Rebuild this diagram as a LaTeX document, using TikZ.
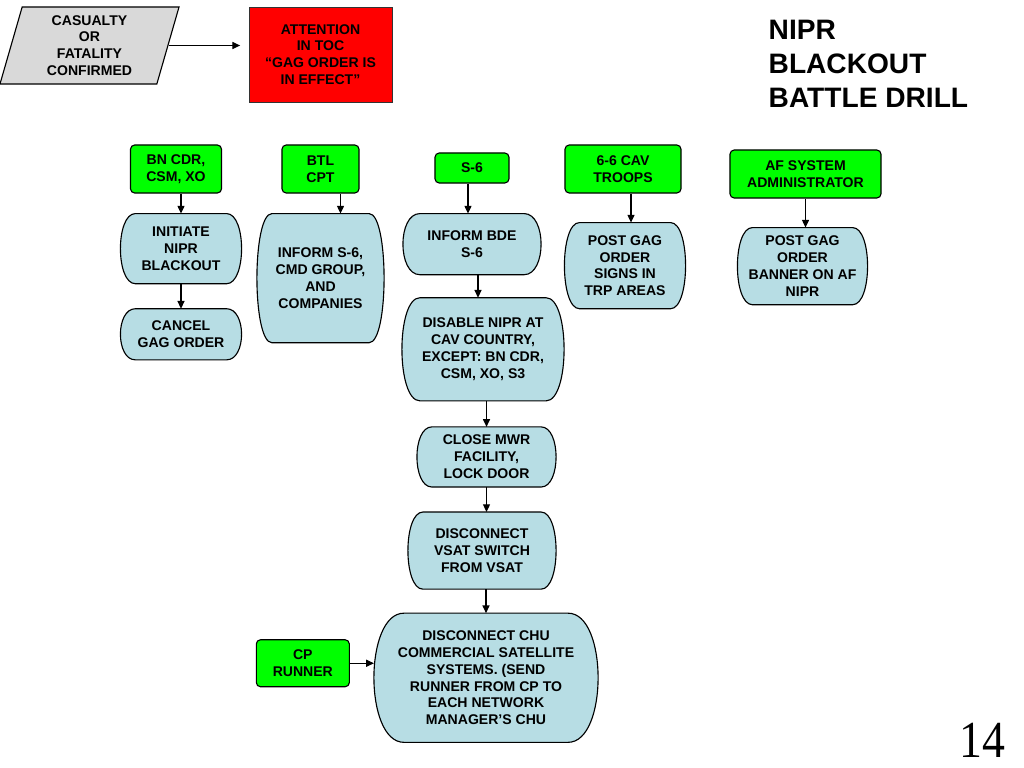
\documentclass[tikz,border=0pt]{standalone}
\usepackage{fontspec}
\setmainfont{Liberation Sans}
\newfontfamily\slidenumfont{Liberation Serif}
\usetikzlibrary{shapes,arrows.meta,positioning,calc}

\definecolor{actorgreen}{HTML}{00FF00}
\definecolor{stepblue}{HTML}{B7DDE4}
\definecolor{eventgray}{HTML}{D9D9D9}

% box with bulging left and right sides
\makeatletter
\def\barrelbulge{0.375cm}
\tikzset{barrel bulge/.code={\def\barrelbulge{#1}}}
\pgfdeclareshape{barrel}{
  \inheritsavedanchors[from=rectangle]
  \inheritanchorborder[from=rectangle]
  \inheritanchor[from=rectangle]{center}
  \inheritanchor[from=rectangle]{mid}
  \inheritanchor[from=rectangle]{base}
  \inheritanchor[from=rectangle]{north}
  \inheritanchor[from=rectangle]{south}
  \inheritanchor[from=rectangle]{east}
  \inheritanchor[from=rectangle]{west}
  \inheritanchor[from=rectangle]{north east}
  \inheritanchor[from=rectangle]{north west}
  \inheritanchor[from=rectangle]{south east}
  \inheritanchor[from=rectangle]{south west}
  \backgroundpath{%
    \southwest \pgfmathsetmacro\brlL{\pgf@x}\pgfmathsetmacro\brlB{\pgf@y}%
    \northeast \pgfmathsetmacro\brlR{\pgf@x}\pgfmathsetmacro\brlT{\pgf@y}%
    \pgfmathsetmacro\brlb{\barrelbulge}%
    \pgfmathsetmacro\brlLi{\brlL+\brlb}%
    \pgfmathsetmacro\brlRi{\brlR-\brlb}%
    \pgfmathsetmacro\brlLc{\brlL-\brlb/3}%
    \pgfmathsetmacro\brlRc{\brlR+\brlb/3}%
    \pgfpathmoveto{\pgfpoint{\brlLi pt}{\brlT pt}}%
    \pgfpathlineto{\pgfpoint{\brlRi pt}{\brlT pt}}%
    \pgfpathcurveto{\pgfpoint{\brlRc pt}{\brlT pt}}{\pgfpoint{\brlRc pt}{\brlB pt}}{\pgfpoint{\brlRi pt}{\brlB pt}}%
    \pgfpathlineto{\pgfpoint{\brlLi pt}{\brlB pt}}%
    \pgfpathcurveto{\pgfpoint{\brlLc pt}{\brlB pt}}{\pgfpoint{\brlLc pt}{\brlT pt}}{\pgfpoint{\brlLi pt}{\brlT pt}}%
    \pgfpathclose
  }
}
\makeatother

\begin{document}
\begin{tikzpicture}[
  x=0.025cm, y=-0.025cm,
  every node/.style={font=\fontsize{10}{12}\selectfont\bfseries, align=center, inner sep=1pt},
  event/.style={trapezium, trapezium left angle=70.7, trapezium right angle=109.3, trapezium stretches body=true, draw=black, fill=eventgray, line width=0.8pt, minimum width=4.475cm, minimum height=1.925cm},
  alarm/.style={rectangle, draw=black!80, fill=red, line width=0.6pt, minimum width=3.575cm, minimum height=2.375cm},
  actor/.style={rectangle, draw=black, fill=actorgreen, rounded corners=3pt, line width=0.8pt, minimum width=#1, minimum height=1.2cm},
  action/.style 2 args={barrel, draw=black, fill=stepblue, line width=0.8pt, minimum width=#1, minimum height=#2},
  arrow/.style={-{Triangle[length=5.5pt,width=5pt]}, line width=0.8pt}
]
  \useasboundingbox (0,0) rectangle (1024,768);

  % trigger and title
  \node[event] (casualty) at (89.5,45.5) {CASUALTY\\OR\\FATALITY\\CONFIRMED};
  \node[alarm] (attention) at (320.5,54.5) {ATTENTION\\IN TOC\\“GAG ORDER IS\\IN EFFECT”};
  \node[anchor=west, align=left, font=\fontsize{20}{24}\selectfont\bfseries] (title) at (767,64) {NIPR\\BLACKOUT\\BATTLE DRILL};
  \node[font=\slidenumfont\fontsize{37}{37}\selectfont] (slidenum) at (982.5,740) {\scalebox{0.88}[1]{14}};

  % who
  \node[actor=2.275cm] (bncdr) at (176,169) {BN CDR,\\CSM, XO};
  \node[actor=1.925cm] (btl) at (320.5,169) {BTL\\CPT};
  \node[actor=1.85cm, minimum height=0.75cm] (s6) at (472,168) {S-6};
  \node[actor=2.9cm] (cav) at (623,169) {6-6 CAV\\TROOPS};
  \node[actor=3.775cm] (afadmin) at (805.5,174) {AF SYSTEM\\ADMINISTRATOR};

  % what
  \node[action={3cm}{1.725cm}, below=0.5cm of bncdr, xshift=0.125cm] (initiate) {INITIATE\\NIPR\\BLACKOUT};
  \node[action={3cm}{1.25cm}, below=0.625cm of initiate] (cancel) {CANCEL\\GAG ORDER};
  \node[action={3.15cm}{3.2cm}, below=0.5cm of btl] (informs6) {INFORM S-6,\\CMD GROUP,\\AND\\COMPANIES};
  \node[action={3.425cm}{1.5cm}, barrel bulge=0.425cm, below=0.75cm of s6] (informbde) {INFORM BDE\\S-6};
  \node[action={4.025cm}{2.55cm}, barrel bulge=0.45cm, below=0.575cm of informbde, xshift=0.275cm] (disable) {DISABLE NIPR AT\\CAV COUNTRY,\\EXCEPT: BN CDR,\\CSM, XO, S3};
  \node[action={3.45cm}{1.475cm}, below=0.65cm of disable, xshift=0.0875cm] (closemwr) {CLOSE MWR\\FACILITY,\\LOCK DOOR};
  \node[action={3.675cm}{1.9cm}, below=0.625cm of closemwr, xshift=-0.1125cm] (vsat) {DISCONNECT\\VSAT SWITCH\\FROM VSAT};
  \node[action={5.575cm}{3.2cm}, barrel bulge=0.75cm, below=0.6cm of vsat, xshift=0.1cm] (chu) {DISCONNECT CHU\\COMMERCIAL SATELLITE\\SYSTEMS. (SEND\\RUNNER FROM CP TO\\EACH NETWORK\\MANAGER’S CHU};
  \node[action={3cm}{2.125cm}, below=0.725cm of cav, xshift=0.05cm] (postsigns) {POST GAG\\ORDER\\SIGNS IN\\TRP AREAS};
  \node[action={3.225cm}{1.9cm}, below=0.725cm of afadmin, xshift=-0.075cm] (postbanner) {POST GAG\\ORDER\\BANNER ON AF\\NIPR};
  \node[actor=2.325cm, minimum height=1.175cm, left=0.6cm of chu, yshift=0.3625cm] (cprunner) {CP\\RUNNER};

  % arrow start points off centre
  \coordinate (btlout) at ([xshift=0.5cm]btl.south);
  \coordinate (s6out) at ([xshift=-0.1cm]s6.south);
  \coordinate (bdeout) at ([xshift=0.15cm]informbde.south);
  \coordinate (cavout) at ([xshift=0.2cm]cav.south);

  \draw[arrow, shorten >=6pt] (casualty.east) -- (casualty.east -| attention.west);
  \draw[arrow] (initiate.north |- bncdr.south) -- (initiate.north);
  \draw[arrow] (initiate.south) -- (cancel.north);
  \draw[arrow] (btlout) -- (btlout |- informs6.north);
  \draw[arrow] (s6out) -- (s6out |- informbde.north);
  \draw[arrow] (bdeout) -- (bdeout |- disable.north);
  \draw[arrow] (closemwr.north |- disable.south) -- (closemwr.north);
  \draw[arrow] (closemwr.south) -- (closemwr.south |- vsat.north);
  \draw[arrow] (chu.north |- vsat.south) -- (chu.north);
  \draw[arrow] (cavout) -- (cavout |- postsigns.north);
  \draw[arrow] (afadmin.south) -- (afadmin.south |- postbanner.north);
  \draw[arrow] (cprunner.east) -- (cprunner.east -| chu.west);
\end{tikzpicture}
\end{document}
